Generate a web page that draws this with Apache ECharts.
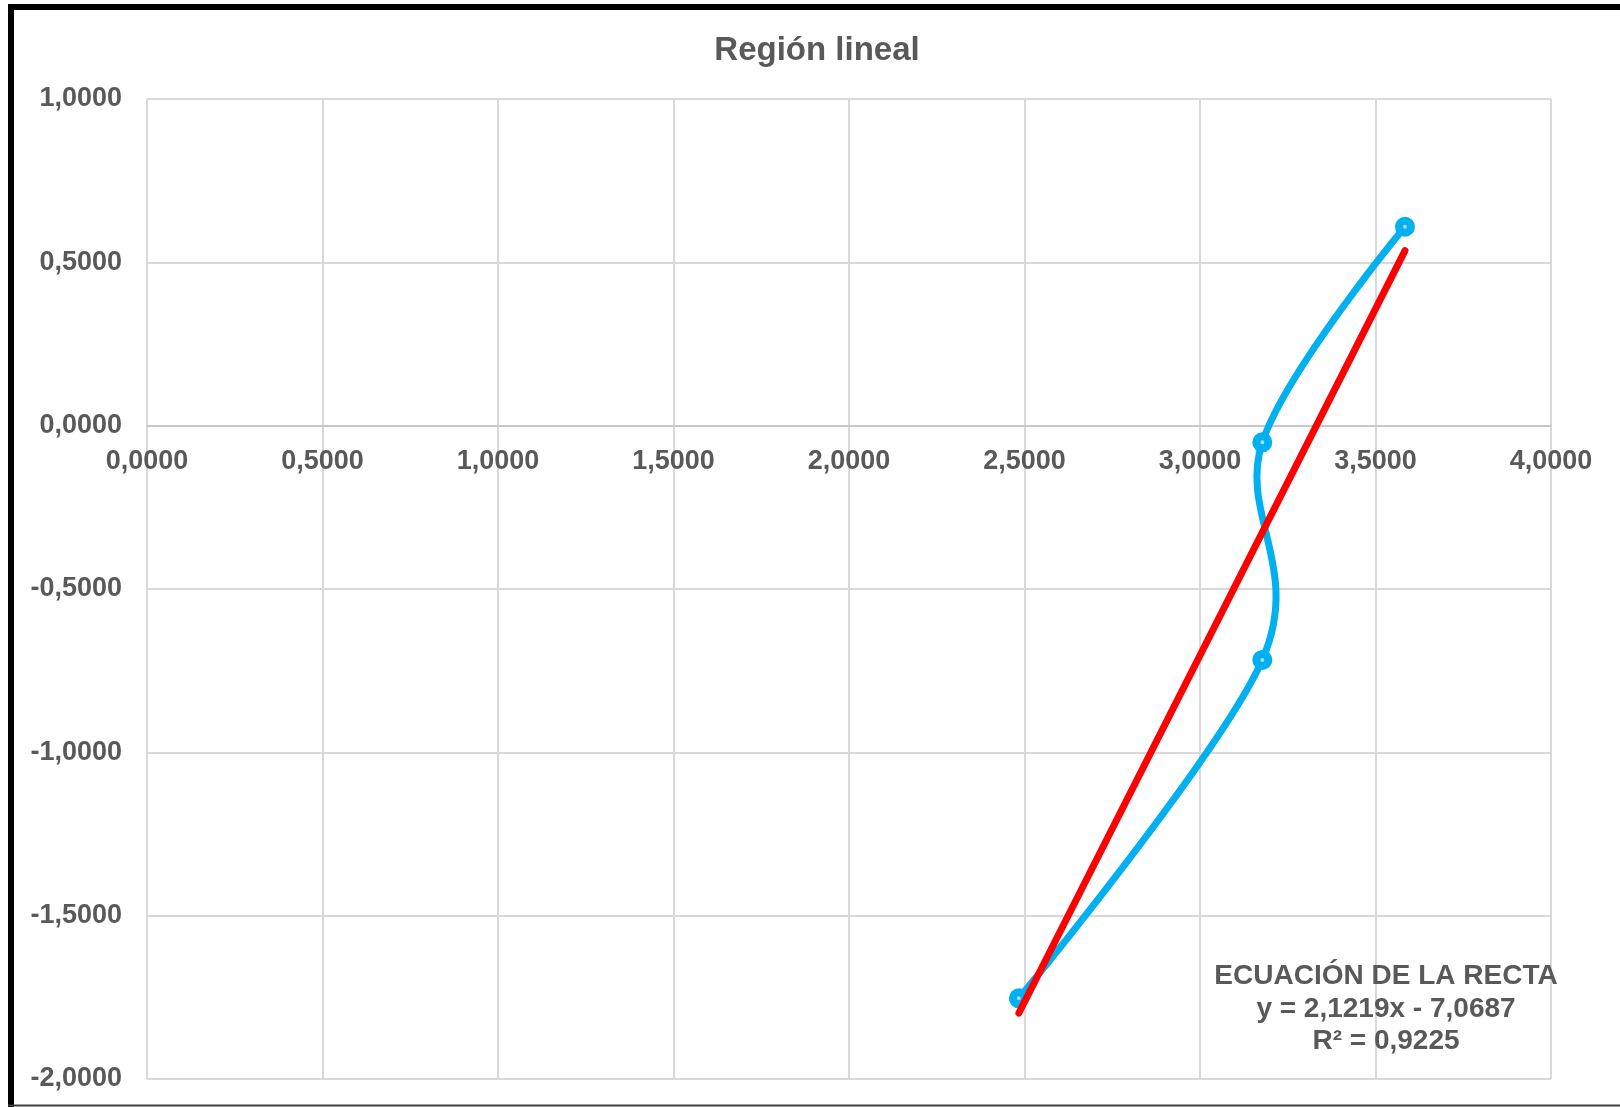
<!DOCTYPE html>
<html>
<head>
<meta charset="utf-8">
<script src="https://cdn.jsdelivr.net/npm/echarts@6/dist/echarts.min.js"></script>
<style>
  html, body { margin: 0; padding: 0; background: #fff; }
  #chart { width: 1620px; height: 1107px; }
</style>
</head>
<body>
<div id="chart"></div>
<script>
// Data
const dataX = [2.484, 3.1775, 3.1775, 3.584];
const dataY = [-1.753, -0.717, -0.051, 0.609];
const trendX = [2.484, 3.584];
const trendY = [-1.798, 0.536];
const titleText = 'Región lineal';
const equationLines = ['ECUACIÓN DE LA RECTA', 'y = 2,1219x - 7,0687', 'R² = 0,9225'];

const fmt = v => v.toFixed(4).replace('.', ',');
const FONT = '"Liberation Sans", Arial, sans-serif';
const GRAY = '#595959';
const BLUE = '#00B0F0';

// grid geometry
const G_LEFT = 147, G_TOP = 99, G_RIGHT = 69, G_BOTTOM = 28;
const Y_MIN = -2, Y_MAX = 1;
const plotH = 1107 - G_TOP - G_BOTTOM;
const zeroOffset = -plotH * (0 - Y_MIN) / (Y_MAX - Y_MIN);

const pts = dataX.map((x, i) => [x, dataY[i]]);

const chart = echarts.init(document.getElementById('chart'));
chart.setOption({
  animation: false,
  backgroundColor: '#ffffff',
  title: {
    text: titleText,
    left: 812,
    top: 29,
    textAlign: 'center',
    textStyle: { fontFamily: FONT, fontSize: 33, fontWeight: 'bold', color: GRAY }
  },
  grid: { left: G_LEFT, top: G_TOP, right: G_RIGHT, bottom: G_BOTTOM, containLabel: false, outerBoundsMode: 'none' },
  xAxis: {
    type: 'value',
    min: 0, max: 4, interval: 0.5,
    offset: zeroOffset,
    axisLine: { show: true, onZero: false, lineStyle: { color: '#c8c8c8', width: 2 } },
    axisTick: { show: false },
    axisLabel: { formatter: fmt, margin: 22, fontFamily: FONT, fontSize: 27, fontWeight: 'bold', color: GRAY },
    splitLine: { show: true, lineStyle: { color: '#d9d9d9', width: 2 } }
  },
  yAxis: {
    type: 'value',
    min: Y_MIN, max: Y_MAX, interval: 0.5,
    axisLine: { show: false },
    axisTick: { show: false },
    axisLabel: { formatter: fmt, margin: 25, padding: [4, 0, 0, 0], fontFamily: FONT, fontSize: 27, fontWeight: 'bold', color: GRAY },
    splitLine: { show: true, lineStyle: { color: '#d9d9d9', width: 2 } }
  },
  series: [
    {
      // smoothed connecting line (Excel-style Catmull-Rom bezier through the points)
      type: 'custom',
      data: pts,
      encode: { x: 0, y: 1 },
      z: 2,
      silent: true,
      renderItem: (params, api) => {
        const i = params.dataIndex;
        const n = dataX.length;
        if (i >= n - 1) return { type: 'group', children: [] };
        const P = j => {
          const jj = Math.max(0, Math.min(n - 1, j));
          return api.coord([dataX[jj], dataY[jj]]);
        };
        const p0 = P(i - 1), p1 = P(i), p2 = P(i + 1), p3 = P(i + 2);
        const k = 1 / 6;
        const c1 = i === 0 ? p1 : [p1[0] + (p2[0] - p0[0]) * k, p1[1] + (p2[1] - p0[1]) * k];
        const c2 = i + 1 === n - 1 ? p2 : [p2[0] - (p3[0] - p1[0]) * k, p2[1] - (p3[1] - p1[1]) * k];
        return {
          type: 'bezierCurve',
          shape: { x1: p1[0], y1: p1[1], x2: p2[0], y2: p2[1], cpx1: c1[0], cpy1: c1[1], cpx2: c2[0], cpy2: c2[1] },
          style: { stroke: BLUE, lineWidth: 7, fill: 'none', lineCap: 'round' }
        };
      }
    },
    {
      type: 'scatter',
      data: pts,
      symbol: 'circle',
      symbolSize: 12,
      itemStyle: { color: '#a8dcf0', borderColor: BLUE, borderWidth: 8, opacity: 1 },
      z: 3
    },
    {
      type: 'line',
      data: trendX.map((x, i) => [x, trendY[i]]),
      showSymbol: false,
      lineStyle: { color: '#FF0000', width: 7, cap: 'round' },
      z: 4
    }
  ],
  graphic: [
    {
      type: 'text',
      x: 1386, y: 1009,
      style: {
        text: equationLines.join('\n'),
        fontFamily: FONT, fontSize: 28, fontWeight: 'bold',
        fill: GRAY, align: 'center', verticalAlign: 'middle', lineHeight: 32.5
      },
      z: 10
    },
    { type: 'line', shape: { x1: 11, y1: 4, x2: 11, y2: 1107 }, style: { stroke: '#000', lineWidth: 6 }, z: 20 },
    { type: 'line', shape: { x1: 8, y1: 7, x2: 1620, y2: 7 }, style: { stroke: '#000', lineWidth: 6 }, z: 20 },
    { type: 'line', shape: { x1: 8, y1: 1105.5, x2: 1620, y2: 1105.5 }, style: { stroke: '#404040', lineWidth: 2 }, z: 20 }
  ]
});
</script>
</body>
</html>
